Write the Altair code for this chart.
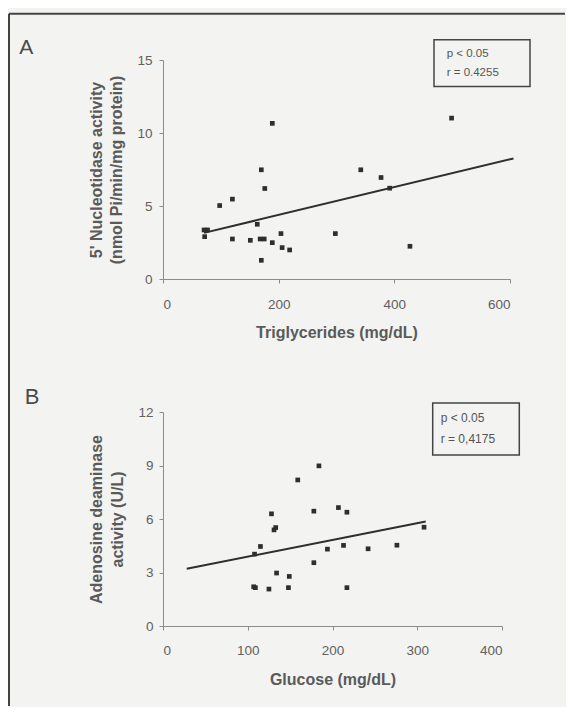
import altair as alt
import pandas as pd

FONT = "Liberation Sans"

# ---------------- data ----------------
# Panel A: triglycerides vs 5' nucleotidase activity
trig_x = [71, 77, 72, 98, 120, 120, 151, 163, 170, 168, 175, 170, 176, 189,
          189, 204, 206, 219, 298, 342, 377, 392, 427, 499]
nucl_y = [3.36, 3.36, 2.90, 5.03, 5.47, 2.74, 2.65, 3.75, 7.48, 2.74, 2.74,
          1.28, 6.20, 10.66, 2.49, 3.11, 2.15, 1.99, 3.11, 7.48, 6.95, 6.22,
          2.24, 11.02]
fitA_x = [71, 606]
fitA_y = [3.16, 8.26]

# Panel B: glucose vs adenosine deaminase activity
gluc_x = [107, 109, 108, 115, 125, 128, 131, 133, 134, 148, 149, 159, 178,
          178, 184, 194, 207, 213, 217, 217, 242, 276, 308]
ada_y = [2.20, 2.15, 4.03, 4.46, 2.07, 6.29, 5.39, 5.52, 2.97, 2.15, 2.78,
         8.19, 6.44, 3.55, 8.98, 4.31, 6.64, 4.52, 6.38, 2.15, 4.33, 4.53,
         5.54]
fitB_x = [28, 310]
fitB_y = [3.21, 5.86]

panel_labels = ["A", "B"]
statsA = ["p < 0.05", "r = 0.4255"]
statsB = ["p < 0.05", "r = 0,4175"]

xticksA = [0, 200, 400, 600]
yticksA = [0, 5, 10, 15]
xticksB = [0, 100, 200, 300, 400]
yticksB = [0, 3, 6, 9, 12]

titleXA = "Triglycerides (mg/dL)"
titleYA = ["5' Nucleotidase activity", "(nmol Pi/min/mg protein)"]
titleXB = "Glucose (mg/dL)"
titleYB = ["Adenosine deaminase", "activity (U/L)"]

INK = "#2e2e2e"


def axis(**kw):
    base = dict(grid=False, domainColor="#8c8c8c", domainWidth=1,
                tickColor="#8c8c8c", tickSize=4, tickWidth=1,
                labelColor="#606060", labelFontSize=13.5, labelFont=FONT,
                titleColor="#5a5a5a", titleFontSize=16,
                titleFontWeight="bold", titleFont=FONT)
    base.update(kw)
    return alt.Axis(**base)


def dummy():
    return alt.Chart(pd.DataFrame({"d": [0]}))


def text_at(s, x, y, size, color, baseline="middle"):
    return dummy().mark_text(align="left", baseline=baseline, fontSize=size,
                             color=color, font=FONT).encode(
        text=alt.value(s), x=alt.value(x), y=alt.value(y))


def box(x1, x2, y1, y2):
    return dummy().mark_rect(fillOpacity=0, stroke="#454545",
                             strokeWidth=1.5).encode(
        x=alt.value(x1), x2=alt.value(x2), y=alt.value(y1), y2=alt.value(y2))


# ---------------- panel A ----------------
dfA = pd.DataFrame({"tg": trig_x, "nt": nucl_y})
fitA = pd.DataFrame({"tg": fitA_x, "nt": fitA_y})
xA = alt.X("tg:Q", scale=alt.Scale(domain=[0, 600], nice=False),
           axis=axis(values=xticksA, title=titleXA, labelPadding=14,
                     titlePadding=14))
yA = alt.Y("nt:Q", scale=alt.Scale(domain=[0, 15], nice=False),
           axis=axis(values=yticksA, title=titleYA, labelPadding=7,
                     titlePadding=12, titleLineHeight=20))
ptsA = alt.Chart(dfA).mark_square(size=22, color=INK, opacity=1).encode(x=xA, y=yA)
lineA = alt.Chart(fitA).mark_line(color=INK, strokeWidth=2).encode(x="tg:Q", y="nt:Q")

frameTop = dummy().mark_rule(color="#444444", strokeWidth=2).encode(
    x=alt.value(-154), x2=alt.value(402), y=alt.value(-46.3))
frameLeft = dummy().mark_rule(color="#444444", strokeWidth=2).encode(
    x=alt.value(-154), y=alt.value(-46.3), y2=alt.value(646))

panelA = alt.layer(
    frameTop, frameLeft, lineA, ptsA,
    box(271, 367, -20.3, 26.4),
    text_at(statsA[0], 283.7, -6, 11.5, "#555555"),
    text_at(statsA[1], 283.7, 13, 11.5, "#555555"),
    text_at(panel_labels[0], -143.7, -6, 21, "#4a4a4a", baseline="alphabetic"),
).properties(width=347, height=219)

# ---------------- panel B ----------------
dfB = pd.DataFrame({"gl": gluc_x, "ada": ada_y})
fitB = pd.DataFrame({"gl": fitB_x, "ada": fitB_y})
xB = alt.X("gl:Q", scale=alt.Scale(domain=[0, 400], nice=False),
           axis=axis(values=xticksB, title=titleXB, labelPadding=13,
                     titlePadding=15))
yB = alt.Y("ada:Q", scale=alt.Scale(domain=[0, 12], nice=False),
           axis=axis(values=yticksB, title=titleYB, labelPadding=6,
                     titlePadding=12, titleLineHeight=21))
ptsB = alt.Chart(dfB).mark_square(size=22, color=INK, opacity=1).encode(x=xB, y=yB)
lineB = alt.Chart(fitB).mark_line(color=INK, strokeWidth=2).encode(x="gl:Q", y="ada:Q")

panelB = alt.layer(
    lineB, ptsB,
    box(269.7, 356.3, -9, 43),
    text_at(statsB[0], 277.7, 6.4, 12, "#555555"),
    text_at(statsB[1], 277.7, 27, 12, "#555555"),
    text_at(panel_labels[1], -138.3, -8, 22, "#4a4a4a", baseline="alphabetic"),
).properties(width=339, height=214)

chart = alt.vconcat(panelA, panelB, spacing=133, bounds="flush").properties(
    padding={"left": 0, "top": 4, "right": 0, "bottom": 0},
    background="#f3f3f1",
).configure(font=FONT).configure_view(stroke=None)

chart.save("out.html", embed_options={"renderer": "svg", "actions": False})
